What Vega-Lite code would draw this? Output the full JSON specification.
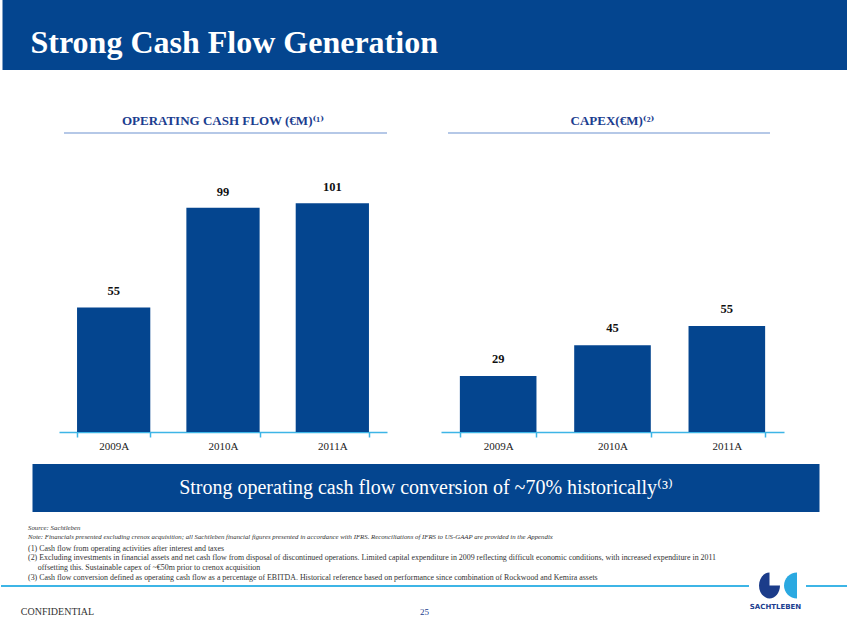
{
  "$schema": "https://vega.github.io/schema/vega-lite/v6.json",
  "padding": 0,
  "background": "white",
  "config": {
    "view": {"stroke": null},
    "font": "Liberation Serif, DejaVu Serif",
    "title": {"font": "Liberation Serif, DejaVu Serif"},
    "text": {"font": "Liberation Serif, DejaVu Serif"}
  },
  "datasets": {
    "ocf": [
      {"year": "2009A", "value": 55},
      {"year": "2010A", "value": 99},
      {"year": "2011A", "value": 101}
    ],
    "capex": [
      {"year": "2009A", "value": 29},
      {"year": "2010A", "value": 45},
      {"year": "2011A", "value": 55}
    ],
    "banner": [{"text": "Strong operating cash flow conversion of ~70% historically⁽³⁾"}],
    "conf": [{"text": "CONFIDENTIAL"}],
    "page": [{"text": "25"}],
    "brand": [{"text": "SACHTLEBEN"}],
    "logo": [{"part": "dark"}, {"part": "light"}],
    "none": []
  },
  "spacing": 44,
  "center": true,
  "vconcat": [
    {
      "width": 847,
      "height": 70,
      "view": {"fill": "#04458F", "stroke": null},
      "title": {
        "text": "Strong Cash Flow Generation",
        "anchor": "start",
        "frame": "group",
        "orient": "top",
        "offset": -60,
        "dx": 28,
        "color": "white",
        "fontSize": 32,
        "fontWeight": "bold"
      },
      "data": {"name": "none"},
      "mark": "point"
    },
    {
      "spacing": 12,
      "center": true,
      "vconcat": [
        {
          "spacing": 0,
          "hconcat": [
            {
              "width": 328,
              "height": 299,
              "data": {"name": "ocf"},
              "view": {"stroke": "#9DB7DF", "strokeWidth": 1.5, "strokeDash": [323, 5000], "strokeDashOffset": -5},
              "title": {
                "text": "OPERATING CASH FLOW (€M)⁽¹⁾",
                "anchor": "middle",
                "offset": 5,
                "fontSize": 13,
                "fontWeight": "bold",
                "color": "#1B3D8F"
              },
              "encoding": {
                "x": {
                  "field": "year",
                  "type": "ordinal",
                  "scale": {"paddingInner": 0.33, "paddingOuter": 0.165},
                  "axis": {
                    "title": null,
                    "labelAngle": 0,
                    "labelFontSize": 11,
                    "labelColor": "#222222",
                    "labelPadding": 3,
                    "domainColor": "#3DB5E6",
                    "domainWidth": 1.5,
                    "tickColor": "#3DB5E6",
                    "tickWidth": 1.5,
                    "tickSize": 5,
                    "tickBand": "extent",
                    "grid": false
                  }
                },
                "y": {
                  "field": "value",
                  "type": "quantitative",
                  "scale": {"domain": [0, 132], "nice": false},
                  "axis": null
                }
              },
              "layer": [
                {"mark": {"type": "bar", "color": "#04458F"}},
                {
                  "mark": {"type": "text", "baseline": "alphabetic", "dy": -12, "fontSize": 12.5, "fontWeight": "bold", "color": "#111111"},
                  "encoding": {"text": {"field": "value", "type": "quantitative"}}
                }
              ]
            },
            {"width": 52, "height": 1, "data": {"name": "none"}, "mark": "point"},
            {
              "width": 343,
              "height": 299,
              "data": {"name": "capex"},
              "view": {"stroke": "#9DB7DF", "strokeWidth": 1.5, "strokeDash": [322, 5000], "strokeDashOffset": -7},
              "title": {
                "text": "CAPEX(€M)⁽²⁾",
                "anchor": "middle",
                "offset": 5,
                "fontSize": 13,
                "fontWeight": "bold",
                "color": "#1B3D8F"
              },
              "encoding": {
                "x": {
                  "field": "year",
                  "type": "ordinal",
                  "scale": {"paddingInner": 0.33, "paddingOuter": 0.165},
                  "axis": {
                    "title": null,
                    "labelAngle": 0,
                    "labelFontSize": 11,
                    "labelColor": "#222222",
                    "labelPadding": 3,
                    "domainColor": "#3DB5E6",
                    "domainWidth": 1.5,
                    "tickColor": "#3DB5E6",
                    "tickWidth": 1.5,
                    "tickSize": 5,
                    "tickBand": "extent",
                    "grid": false
                  }
                },
                "y": {
                  "field": "value",
                  "type": "quantitative",
                  "scale": {"domain": [0, 155], "nice": false},
                  "axis": null
                }
              },
              "layer": [
                {"mark": {"type": "bar", "color": "#04458F"}},
                {
                  "mark": {"type": "text", "baseline": "alphabetic", "dy": -13, "fontSize": 12.5, "fontWeight": "bold", "color": "#111111"},
                  "encoding": {"text": {"field": "value", "type": "quantitative"}}
                }
              ]
            },
            {"width": 8, "height": 1, "data": {"name": "none"}, "mark": "point"}
          ]
        },
        {
          "width": 787,
          "height": 48,
          "view": {"fill": "#04458F", "stroke": null},
          "data": {"name": "banner"},
          "mark": {"type": "text", "color": "white", "fontSize": 20},
          "encoding": {"text": {"field": "text"}}
        },
        {
          "spacing": 0,
          "vconcat": [
            {
              "spacing": 0,
              "hconcat": [
                {
                  "width": 748,
                  "height": 59,
                  "view": {"stroke": "#3DB5E6", "strokeWidth": 2, "strokeDash": [748, 10000], "strokeDashOffset": -807},
                  "title": {
                    "text": [
                      "Source: Sachtleben",
                      "Note: Financials presented excluding crenox acquisition; all Sachtleben financial figures presented in accordance with IFRS. Reconciliations of IFRS to US-GAAP are provided in the Appendix"
                    ],
                    "subtitle": [
                      "(1) Cash flow from operating activities after interest and taxes",
                      "(2) Excluding investments in financial assets and net cash flow from disposal of discontinued operations.  Limited capital expenditure in 2009 reflecting difficult economic conditions, with increased expenditure in 2011",
                      "\u200b\u00a0\u00a0\u00a0\u00a0\u00a0offsetting this.  Sustainable capex of ~€50m prior to crenox acquisition",
                      "(3) Cash flow conversion defined as operating cash flow as a percentage of EBITDA. Historical reference based on performance since combination of Rockwood and Kemira assets"
                    ],
                    "anchor": "start",
                    "frame": "group",
                    "orient": "top",
                    "offset": -55,
                    "dx": 27,
                    "fontSize": 6.8,
                    "fontStyle": "italic",
                    "fontWeight": "normal",
                    "lineHeight": 8.7,
                    "color": "#333333",
                    "subtitleFontSize": 7.9,
                    "subtitleLineHeight": 9.8,
                    "subtitlePadding": 4,
                    "subtitleColor": "#333333"
                  },
                  "data": {"name": "none"},
                  "mark": "point"
                },
                {
                  "width": 55,
                  "height": 59,
                  "data": {"name": "logo"},
                  "mark": {"type": "point", "filled": true, "size": 400, "opacity": 1},
                  "encoding": {
                    "shape": {
                      "field": "part",
                      "type": "nominal",
                      "scale": {
                        "domain": ["dark", "light"],
                        "range": [
                          "M -0.8 2.9 L -0.8 1.6 A 1.05 1.3 0 0 0 -1.85 2.9 A 1.05 1.3 0 0 0 -0.8 4.2 A 1.05 1.3 0 0 0 0.25 2.9 Z",
                          "M 1.95 1.6 A 1.3 1.3 0 0 0 1.95 4.2 Z"
                        ]
                      },
                      "legend": null
                    },
                    "color": {
                      "field": "part",
                      "type": "nominal",
                      "scale": {"domain": ["dark", "light"], "range": ["#1B3C8A", "#2BA9E1"]},
                      "legend": null
                    }
                  }
                },
                {
                  "width": 44,
                  "height": 59,
                  "view": {"stroke": "#3DB5E6", "strokeWidth": 2, "strokeDash": [44, 10000], "strokeDashOffset": -103},
                  "data": {"name": "none"},
                  "mark": "point"
                }
              ]
            },
            {
              "spacing": 0,
              "hconcat": [
                {
                  "width": 113,
                  "height": 25,
                  "data": {"name": "conf"},
                  "mark": {"type": "text", "fontSize": 10, "color": "#333333"},
                  "encoding": {"text": {"field": "text"}}
                },
                {"width": 285, "height": 1, "data": {"name": "none"}, "mark": "point"},
                {
                  "width": 51,
                  "height": 25,
                  "data": {"name": "page"},
                  "mark": {"type": "text", "fontSize": 9, "color": "#1B3D8F"},
                  "encoding": {"text": {"field": "text"}}
                },
                {"width": 298, "height": 1, "data": {"name": "none"}, "mark": "point"},
                {
                  "width": 55,
                  "height": 15,
                  "data": {"name": "brand"},
                  "mark": {"type": "text", "fontSize": 7, "fontWeight": "bold", "font": "DejaVu Sans", "color": "#1B3D8F"},
                  "encoding": {"text": {"field": "text"}}
                },
                {"width": 45, "height": 1, "data": {"name": "none"}, "mark": "point"}
              ]
            }
          ]
        }
      ]
    }
  ]
}
